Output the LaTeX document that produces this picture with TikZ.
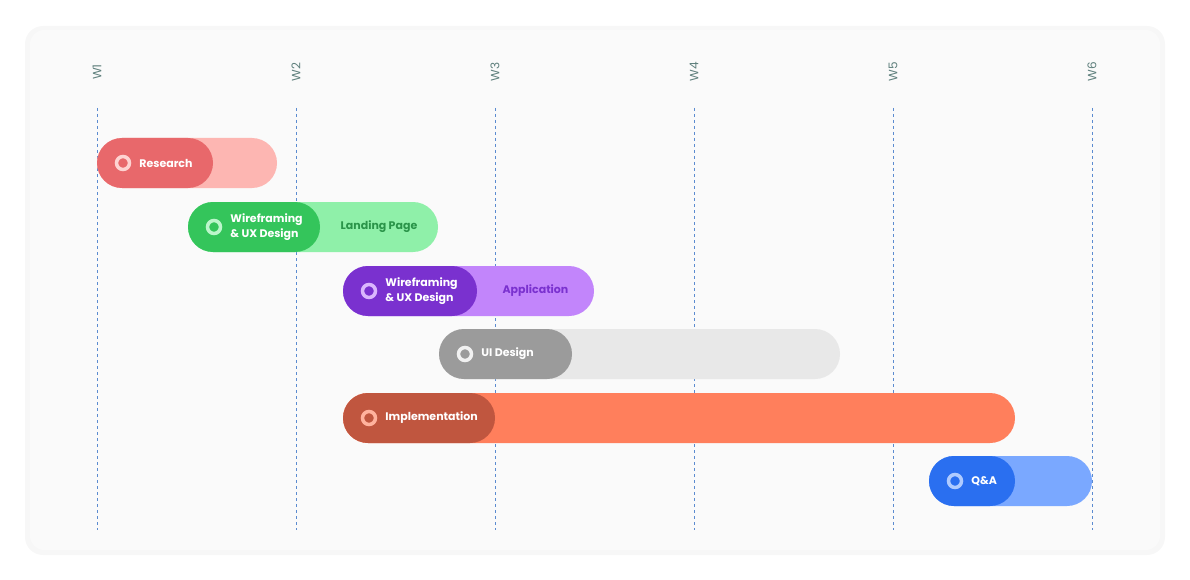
\documentclass[tikz,border=0pt]{standalone}
\usepackage{fontspec}
\setmainfont{Poppins}
\usetikzlibrary{positioning}
\definecolor{cardbg}{HTML}{FAFAFA}
\definecolor{weekfg}{HTML}{5F807D}
\definecolor{gridfg}{HTML}{5B8BD0}
\begin{document}
\begin{tikzpicture}[x=1pt,y=-1pt,
  week/.style={rotate=90,font=\fontsize{12}{14}\selectfont,text=weekfg},
  grid/.style={gridfg,dashed,line width=0.8pt},
  bar/.style={rounded corners=25pt},
  ring/.style={circle,line width=3.5pt,minimum size=13pt,inner sep=0pt},
  lbl/.style={font=\fontsize{11}{15.5}\selectfont\bfseries,text=white,align=left,anchor=west,inner sep=0pt}]
  \useasboundingbox (0,0) rectangle (1190,580);
  \fill[black!3,rounded corners=18pt] (25,26) rectangle (1165,555);
  \fill[cardbg,rounded corners=14pt] (30,30) rectangle (1160,550);
  % weeks
  \foreach \w [count=\i from 0] in {W1,W2,W3,W4,W5,W6} {
    \node[week] (w\w) at (97+199*\i,72) {\w};
    \coordinate (b\w) at (97+199*\i,530);
    \draw[grid] (97+199*\i,108) -- (b\w);
  }
  % tasks: y, start, split, end, dark, light, label, side label, side colour
  \foreach \n/\y/\a/\d/\b/\dk/\lt/\txt/\side/\sc in {
      res/163/97/213/277/E8686B/FDB6B2/Research//000000,
      land/227/188/320/438/34C55B/8FF0A9/{Wireframing\\\& UX Design}/Landing Page/2A9449,
      app/291/343/477/594/7A31CF/C285FB/{Wireframing\\\& UX Design}/Application/7A31CF,
      ui/354/439/572/840/9B9B9B/E8E8E8/UI Design//000000,
      impl/418/343/495/1015/C0563F/FF7F5C/Implementation//000000,
      qa/481/929/1015/1092/2A6FF0/7AA8FF/Q\&A//000000} {
    \definecolor{dk}{HTML}{\dk}\definecolor{lt}{HTML}{\lt}\definecolor{sc}{HTML}{\sc}
    \fill[lt,bar] (\a,\y-25) rectangle (\b,\y+25);
    \fill[dk,bar] (\a,\y-25) rectangle (\d,\y+25);
    \node[ring,draw=lt!60!white,fill=dk] (\n-dot) at (\a+26,\y) {};
    \node[lbl,right=8pt of \n-dot] (\n-txt) {\txt};
    \node[text=sc,font=\fontsize{11}{13}\selectfont\bfseries] (\n-side) at ({(\d+\b)/2},\y) {\side};
  }
\end{tikzpicture}
\end{document}
